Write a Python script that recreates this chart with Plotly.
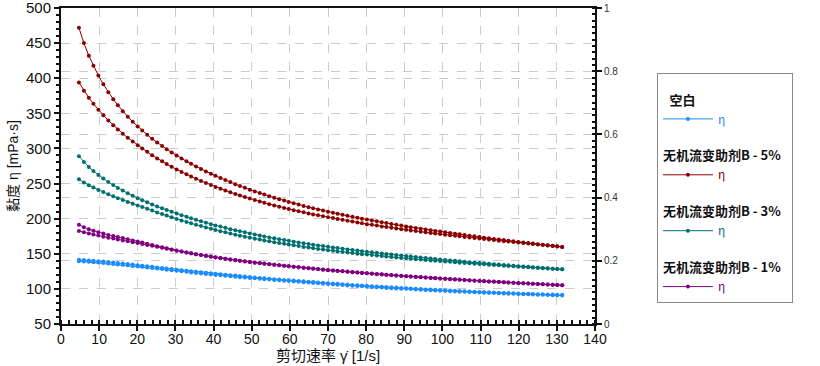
import plotly.graph_objects as go

# shear rate (1/s), shared by up- and down-sweeps
shear_rate = [4.7, 6.0, 7.3, 8.5, 9.8, 11.1, 12.4, 13.7, 14.9, 16.2, 17.5, 18.8, 20.1, 21.3, 22.6, 23.9,
              25.2, 26.5, 27.7, 29.0, 30.3, 31.6, 32.9, 34.1, 35.4, 36.7, 38.0, 39.3, 40.5, 41.8, 43.1, 44.4,
              45.7, 46.9, 48.2, 49.5, 50.8, 52.1, 53.3, 54.6, 55.9, 57.2, 58.5, 59.7, 61.0, 62.3, 63.6, 64.9,
              66.1, 67.4, 68.7, 70.0, 71.3, 72.5, 73.8, 75.1, 76.4, 77.7, 78.9, 80.2, 81.5, 82.8, 84.1, 85.3,
              86.6, 87.9, 89.2, 90.5, 91.7, 93.0, 94.3, 95.6, 96.9, 98.1, 99.4, 100.7, 102.0, 103.3, 104.5,
              105.8, 107.1, 108.4, 109.7, 110.9, 112.2, 113.5, 114.8, 116.1, 117.3, 118.6, 119.9, 121.2,
              122.5, 123.7, 125.0, 126.3, 127.6, 128.9, 130.1, 131.4]

# viscosity (mPa·s)
blank_up = [141.5, 141.1, 140.6, 140.1, 139.5, 138.9, 138.2, 137.6, 136.9, 136.2, 135.5, 134.7,
            133.7, 133.0, 132.2, 131.4, 130.6, 129.8, 129.0, 128.2, 127.4, 126.6, 125.9, 125.1, 124.4, 123.6,
            122.9, 122.2, 121.5, 120.9, 120.2, 119.5, 118.9, 118.3, 117.7, 117.0,
            116.2, 115.6, 115.1, 114.5, 113.9, 113.4, 112.8, 112.3, 111.8, 111.3, 110.8, 110.2, 109.7, 109.2,
            108.6, 108.1, 107.6, 107.2, 106.7, 106.2, 105.7, 105.2, 104.8, 104.3, 103.9, 103.4, 103.0, 102.6,
            102.2, 101.8, 101.4,
            100.9, 100.5, 100.1, 99.7, 99.3, 99.0, 98.6, 98.3, 97.9, 97.6, 97.2, 96.9, 96.6, 96.3, 96.0, 95.7,
            95.4, 95.1, 94.8, 94.5, 94.3, 94.0, 93.7, 93.4, 93.2, 93.0, 92.7, 92.5, 92.3, 92.1, 91.9, 91.7, 91.5]
blank_down = [139.5, 139.1, 138.6, 138.1, 137.5, 136.9, 136.2, 135.6, 134.9, 134.2, 133.5, 132.7,
              132.1, 131.4, 130.6, 129.8, 129.0, 128.2, 127.4, 126.6, 125.8, 125.0, 124.3, 123.5, 122.8, 122.0,
              121.3, 120.6, 119.9, 119.3, 118.6, 117.9, 117.3, 116.7, 116.1, 115.4,
              115.0, 114.4, 113.9, 113.3, 112.7, 112.2, 111.6, 111.1, 110.6, 110.1, 109.6, 109.0, 108.5, 108.0,
              107.4, 106.9, 106.4, 106.0, 105.5, 105.0, 104.5, 104.0, 103.6, 103.1, 102.7, 102.2, 101.8, 101.4,
              101.0, 100.6, 100.2,
              100.1, 99.7, 99.3, 98.9, 98.5, 98.2, 97.8, 97.5, 97.1, 96.8, 96.4, 96.1, 95.8, 95.5, 95.2, 94.9,
              94.6, 94.3, 94.0, 93.7, 93.5, 93.2, 92.9, 92.6, 92.4, 92.2, 91.9, 91.7, 91.5, 91.3, 91.1, 90.9, 90.7]
b5_up = [472.0, 450.0, 432.0, 417.6, 403.7, 391.3, 380.1, 370.2, 361.6, 353.1, 345.3, 338.0,
         331.3, 325.4, 319.5, 313.8, 308.5, 303.4, 299.0, 294.4, 289.9, 285.7, 281.7, 278.1, 274.3, 270.7,
         267.3, 264.0, 261.0, 257.9, 254.9, 252.1, 249.0, 246.5, 243.9, 241.3,
         238.8, 236.5, 234.4, 232.1, 229.9, 227.8, 225.7, 223.9, 221.9, 220.0, 218.2, 216.4, 214.9, 213.2,
         211.5, 210.0, 208.4, 207.0, 205.5, 204.0, 202.7, 201.3, 200.0, 198.7, 197.4, 196.2, 194.9, 193.8,
         192.5, 191.3, 190.1,
         189.0, 187.9, 186.8, 185.7, 184.6, 183.5, 182.6, 181.6, 180.6, 179.5, 178.5, 177.7, 176.8, 175.7,
         174.8, 173.9, 173.0, 172.1, 171.2, 170.4, 169.5, 168.6, 167.8, 166.9, 166.1, 165.3, 164.5, 163.7,
         162.8, 162.1, 161.3, 160.6, 159.8]
b5_down = [394.0, 382.3, 372.1, 363.6, 355.1, 347.4, 339.9, 333.2, 327.1, 321.1, 315.2, 309.8,
           304.5, 300.0, 295.2, 290.3, 285.6, 281.6, 277.8, 273.8, 269.9, 266.5, 263.1, 260.0, 256.7, 253.7,
           250.8, 247.8, 245.2, 242.6, 240.1, 237.5, 235.1, 233.0, 230.8, 228.6,
           226.5, 224.5, 222.7, 220.7, 218.9, 217.1, 215.3, 213.7, 212.1, 210.5, 209.0, 207.4, 206.1, 204.8,
           203.4, 202.0, 200.8, 199.6, 198.4, 197.1, 195.9, 194.6, 193.5, 192.2, 191.2, 190.1, 189.0, 188.1,
           187.1, 186.1, 185.1,
           184.1, 183.3, 182.3, 181.4, 180.5, 179.6, 178.9, 178.0, 177.2, 176.4, 175.6, 174.8, 174.0, 173.2,
           172.5, 171.7, 171.0, 170.2, 169.5, 168.7, 168.0, 167.4, 166.7, 166.0, 165.3, 164.6, 164.0, 163.3,
           162.5, 161.8, 161.1, 160.4, 159.7]
b3_up = [289.0, 280.7, 273.6, 267.8, 262.2, 257.1, 252.2, 247.8, 243.8, 240.0, 236.1, 232.6,
         229.2, 226.4, 223.3, 220.3, 217.3, 214.7, 212.3, 209.7, 207.2, 204.9, 202.6, 200.5, 198.3, 196.2,
         194.2, 192.2, 190.4, 188.7, 186.9, 185.1, 183.5, 182.0, 180.5, 178.9,
         177.4, 176.0, 174.7, 173.3, 172.0, 170.8, 169.5, 168.4, 167.2, 166.1, 165.0, 163.9, 162.9, 161.9,
         160.9, 159.9, 159.0, 158.1, 157.2, 156.2, 155.4, 154.5, 153.7, 152.9, 152.1, 151.3, 150.5, 149.7,
         149.0, 148.2, 147.5,
         146.7, 146.0, 145.3, 144.6, 143.9, 143.2, 142.6, 141.9, 141.3, 140.6, 140.0, 139.4, 138.7, 138.1,
         137.5, 136.9, 136.4, 135.8, 135.2, 134.6, 134.0, 133.5, 133.0, 132.4, 131.9, 131.4, 130.8, 130.3,
         129.8, 129.3, 128.8, 128.3, 127.8]
b3_down = [256.0, 251.6, 247.7, 244.4, 241.0, 237.9, 234.7, 231.9, 229.2, 226.6, 223.9, 221.4,
           218.9, 216.6, 214.0, 211.5, 208.9, 206.6, 204.4, 202.0, 199.7, 197.5, 195.4, 193.4, 191.3, 189.4,
           187.5, 185.5, 183.9, 182.2, 180.5, 178.8, 177.2, 175.8, 174.4, 172.9,
           171.5, 170.2, 169.0, 167.7, 166.5, 165.3, 164.2, 163.1, 162.0, 160.9, 159.8, 158.8, 157.9, 156.9,
           156.0, 155.0, 154.2, 153.4, 152.6, 151.7, 151.0, 150.2, 149.5, 148.8, 148.1, 147.4, 146.7, 146.1,
           145.4, 144.7, 144.1,
           143.5, 142.9, 142.3, 141.7, 141.1, 140.6, 140.1, 139.6, 139.0, 138.5, 137.9, 137.4, 136.9, 136.4,
           135.9, 135.4, 135.0, 134.5, 134.0, 133.5, 133.0, 132.6, 132.1, 131.6, 131.2, 130.8, 130.3, 129.9,
           129.5, 129.0, 128.6, 128.2, 127.8]
b1_up = [191.3, 187.8, 185.0, 182.8, 180.6, 178.8, 176.9, 175.4, 173.9, 172.3, 170.6, 169.0,
         167.5, 165.9, 164.2, 162.5, 160.8, 159.2, 157.7, 156.1, 154.6, 153.3, 151.9, 150.7, 149.4, 148.3,
         147.2, 146.0,
         145.0, 144.0, 143.0, 142.0, 141.0, 140.2, 139.3, 138.4, 137.6, 136.8, 136.1, 135.2, 134.5, 133.7,
         133.0, 132.3, 131.6, 130.9, 130.2, 129.5, 128.9, 128.2, 127.6, 126.9, 126.3, 125.8, 125.2, 124.6,
         124.0, 123.4, 122.9, 122.3, 121.8, 121.2, 120.7, 120.2, 119.7, 119.1, 118.6, 118.1, 117.7, 117.2,
         116.8, 116.3, 115.8, 115.4, 114.9, 114.5, 114.0, 113.6, 113.2, 112.7, 112.3, 111.9, 111.5, 111.1,
         110.7, 110.4, 110.0, 109.6, 109.2, 108.8, 108.4, 108.1, 107.7, 107.4, 107.0, 106.7, 106.3, 106.0,
         105.6, 105.3]
b1_down = [182.4, 180.6, 178.9, 177.5, 175.9, 174.4, 172.9, 171.6, 170.3, 169.0, 167.7, 166.5,
           165.2, 164.0, 162.6, 161.3, 160.0, 158.6, 157.2, 155.8, 154.4, 153.1, 151.8, 150.6, 149.3, 148.2,
           147.0, 145.8,
           144.8, 143.8, 142.8, 141.8, 140.8, 140.0, 139.1, 138.2, 137.4, 136.6, 135.9, 135.0, 134.3, 133.5,
           132.8, 132.1, 131.4, 130.7, 130.0, 129.3, 128.7, 128.0, 127.4, 126.7, 126.1, 125.6, 125.0, 124.4,
           123.8, 123.2, 122.7, 122.1, 121.6, 121.0, 120.5, 120.0, 119.5, 118.9, 118.4, 117.9, 117.5, 117.0,
           116.6, 116.1, 115.6, 115.2, 114.7, 114.3, 113.8, 113.4, 113.0, 112.5, 112.1, 111.7, 111.3, 110.9,
           110.5, 110.2, 109.8, 109.4, 109.0, 108.6, 108.2, 107.9, 107.5, 107.2, 106.8, 106.5, 106.1, 105.8,
           105.4, 105.2]

groups = ["\u2002空白", "无机流变助剂B - 5%", "无机流变助剂B - 3%", "无机流变助剂B - 1%"]
colors = ["#1a8cff", "#8b0000", "#006f6f", "#800080"]
series = [(blank_up, blank_down), (b5_up, b5_down), (b3_up, b3_down), (b1_up, b1_down)]

FONT = "Liberation Sans, Arial, Noto Sans CJK SC, sans-serif"
CJK = "Noto Sans CJK SC, sans-serif"

fig = go.Figure()
for g, c, (up, down) in zip(groups, colors, series):
    fig.add_trace(go.Scatter(
        x=shear_rate + shear_rate[::-1],
        y=up + down[::-1],
        mode="lines+markers",
        line=dict(color=c, width=1),
        marker=dict(color=c, size=4),
        name=f'<span style="color:{c}">η</span>',
        legendgroup=g,
        legendgrouptitle=dict(text=f"<b>{g}</b>", font=dict(family=CJK, size=13, color="#111")),
    ))

# empty trace to activate the right-hand axis
fig.add_trace(go.Scatter(x=[None], y=[None], yaxis="y2", showlegend=False, hoverinfo="skip"))

fig.update_layout(
    width=820, height=366,
    margin=dict(l=61, r=225, t=8, b=42),
    paper_bgcolor="white", plot_bgcolor="white",
    font=dict(family=FONT, size=14, color="#111"),
    showlegend=True,
    legend=dict(x=1.116, y=0.794, xanchor="left", yanchor="top",
                bordercolor="#8a8a8a", borderwidth=1, bgcolor="white",
                font=dict(family=CJK, size=12), tracegroupgap=17,
                itemwidth=50,
                title=dict(text=" ", font=dict(size=8))),
    xaxis=dict(range=[0, 140], dtick=10, showline=True, linecolor="#111", linewidth=2, mirror=True,
               ticks="outside", ticklen=5, tickwidth=1.5, tickcolor="#111",
               minor=dict(dtick=2, ticks="inside", ticklen=4, tickcolor="#111", showgrid=False),
               showgrid=True, gridcolor="#cccccc", griddash="dash", gridwidth=1, zeroline=False,
               automargin=False, ticklabelstandoff=-4,
               title=dict(text="剪切速率 γ̇ [1/s]", font=dict(size=15), standoff=2),
               tickfont=dict(size=14)),
    yaxis=dict(range=[50, 500], dtick=50, showline=True, linecolor="#111", linewidth=2,
               ticks="outside", ticklen=5, tickwidth=1.5, tickcolor="#111",
               minor=dict(dtick=10, ticks="outside", ticklen=3, tickcolor="#111", showgrid=False),
               showgrid=True, gridcolor="#cccccc", griddash="dash", gridwidth=1, zeroline=False,
               automargin=False, ticklabeloverflow="allow",
               title=dict(text="黏度 η [mPa·s]", font=dict(size=14), standoff=4),
               tickfont=dict(size=15)),
    yaxis2=dict(overlaying="y", side="right", range=[0, 1], dtick=0.2, showline=True, linecolor="#111",
                linewidth=2, ticks="outside", ticklen=5, tickwidth=1.5, tickcolor="#111",
                minor=dict(dtick=0.02, ticks="inside", ticklen=3, tickcolor="#111", showgrid=False),
                showgrid=True, gridcolor="#cccccc", griddash="dash", gridwidth=1, zeroline=False,
                automargin=False, ticklabeloverflow="allow",
                tickfont=dict(size=10, color="#333")),
)

fig.write_html("out.html", config={"displayModeBar": False},
               post_script="document.body.style.margin='0px';")
